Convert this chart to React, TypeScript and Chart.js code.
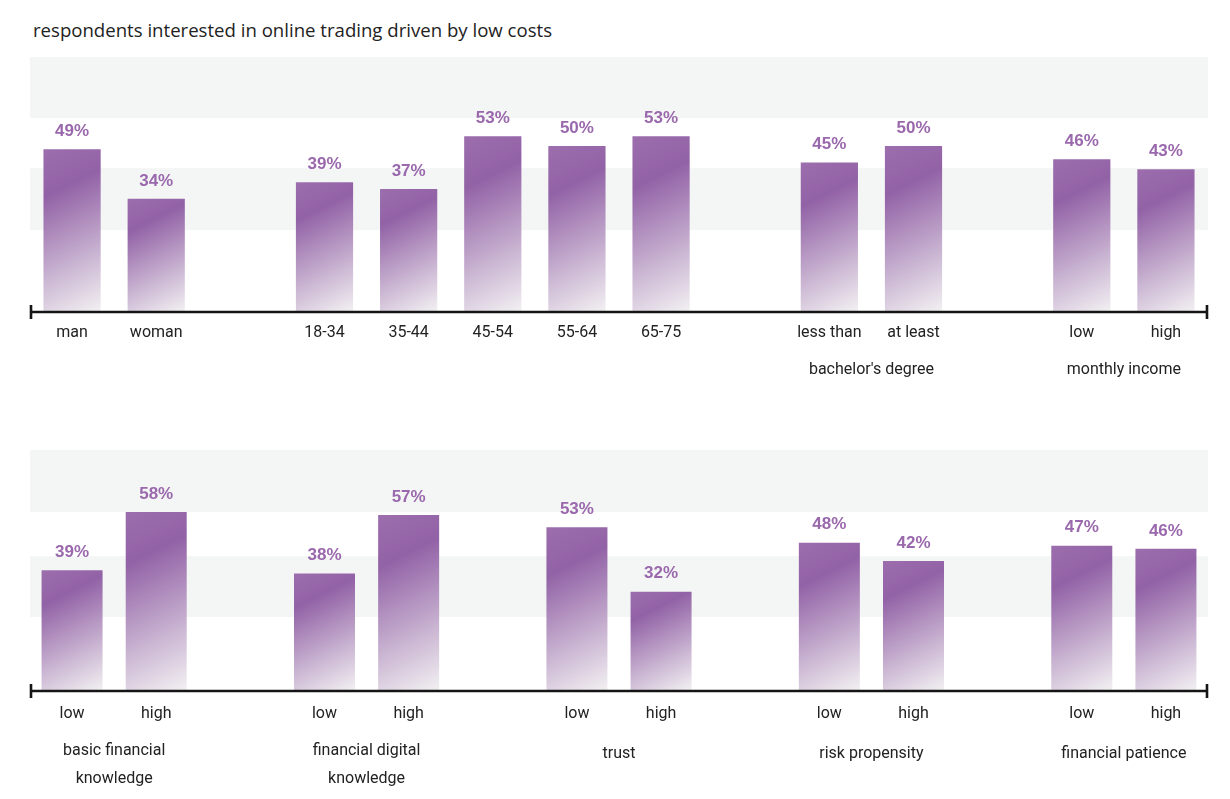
import React, { useEffect, useRef } from 'react';
import { Chart, registerables } from 'chart.js';

Chart.register(...registerables);

const TITLE = 'respondents interested in online trading driven by low costs';

const topCategories = ['man', 'woman', '', '18-34', '35-44', '45-54', '55-64', '65-75', '', 'less than', 'at least', '', 'low', 'high'];
const topValues: (number | null)[] = [49, 34, null, 39, 37, 53, 50, 53, null, 45, 50, null, 46, 43];
const topGroups = [
  { from: 9, to: 10, lines: ["bachelor's degree"] },
  { from: 12, to: 13, lines: ['monthly income'] },
];

const bottomCategories = ['low', 'high', '', 'low', 'high', '', 'low', 'high', '', 'low', 'high', '', 'low', 'high'];
const bottomValues: (number | null)[] = [39, 58, null, 38, 57, null, 53, 32, null, 48, 42, null, 47, 46];
const bottomGroups = [
  { from: 0, to: 1, lines: ['basic financial', 'knowledge'] },
  { from: 3, to: 4, lines: ['financial digital', 'knowledge'] },
  { from: 6, to: 7, lines: ['trust'] },
  { from: 9, to: 10, lines: ['risk propensity'] },
  { from: 12, to: 13, lines: ['financial patience'] },
];

const topBands = [[24.5, 43.3], [58.5, 77]];
const bottomBands = [[23.8, 43.6], [58, 78.2]];

const LABEL_FONT = "Roboto, 'Noto Sans', sans-serif";
const VALUE_FONT = "'Liberation Sans', 'Noto Sans', sans-serif";
const TEXT_COLOR = '#222222';
const VALUE_COLOR = '#9a68ac';
const BAND_COLOR = '#f4f6f5';

type Group = { from: number; to: number; lines: string[] };

function makeGradient(ctx: any, barPct: number) {
  const chart = ctx.chart;
  if (!chart.chartArea || ctx.type !== 'data') return '#9364a7';
  const v = ctx.raw;
  if (v == null) return 'rgba(0,0,0,0)';
  const xs = chart.scales.x;
  const ys = chart.scales.y;
  const n = chart.data.labels.length;
  const w = ((xs.right - xs.left) / n) * barPct;
  const cx = xs.getPixelForValue(ctx.dataIndex);
  const left = cx - w / 2;
  const top = ys.getPixelForValue(v);
  const bottom = ys.getPixelForValue(0);
  const h = bottom - top;
  const k = (0.5 * w + h) / 1.25;
  const g = chart.ctx.createLinearGradient(left, top, left + 0.5 * k, top + k);
  const tDark = Math.min(0.6, Math.max(0.05, (0.3 * h) / (0.5 * w + h)));
  g.addColorStop(0, '#9c6ead');
  g.addColorStop(tDark, '#9262a6');
  g.addColorStop(1, '#f2f0f2');
  return g;
}

function BarPanel(props: {
  categories: string[];
  values: (number | null)[];
  groups: Group[];
  bands: number[][];
  yMax: number;
  barPct: number;
  height: number;
  padTop: number;
  axisHeight: number;
  tickPad: number;
  groupOffset1: number;
  groupOffset2: number;
}) {
  const ref = useRef<HTMLCanvasElement>(null);
  useEffect(() => {
    const { categories, values, groups, bands, yMax, barPct, padTop, axisHeight, tickPad, groupOffset1, groupOffset2 } = props;

    const bandPlugin = {
      id: 'bands',
      beforeDatasetsDraw(chart: any) {
        const { ctx, chartArea, scales } = chart;
        ctx.save();
        ctx.fillStyle = BAND_COLOR;
        for (const [a, b] of bands) {
          const y1 = scales.y.getPixelForValue(b);
          const y0 = scales.y.getPixelForValue(a);
          ctx.fillRect(chartArea.left, y1, chartArea.right - chartArea.left, y0 - y1);
        }
        ctx.restore();
      },
    };

    const axisPlugin = {
      id: 'axisLine',
      afterDatasetsDraw(chart: any) {
        const { ctx, chartArea } = chart;
        const y = chartArea.bottom + 1;
        ctx.save();
        ctx.strokeStyle = '#151515';
        ctx.lineWidth = 2.6;
        ctx.beginPath();
        ctx.moveTo(chartArea.left, y);
        ctx.lineTo(chartArea.right, y);
        ctx.moveTo(chartArea.left + 1, y - 7);
        ctx.lineTo(chartArea.left + 1, y + 7);
        ctx.moveTo(chartArea.right - 1, y - 7);
        ctx.lineTo(chartArea.right - 1, y + 7);
        ctx.stroke();
        ctx.restore();
      },
    };

    const valuePlugin = {
      id: 'values',
      afterDatasetsDraw(chart: any) {
        const { ctx } = chart;
        const meta = chart.getDatasetMeta(0);
        ctx.save();
        ctx.fillStyle = VALUE_COLOR;
        ctx.font = `bold 17px ${VALUE_FONT}`;
        ctx.textAlign = 'center';
        ctx.textBaseline = 'middle';
        meta.data.forEach((el: any, i: number) => {
          const v = values[i];
          if (v == null) return;
          ctx.fillText(`${v}%`, el.x, el.y - 18);
        });
        ctx.restore();
      },
    };

    const groupPlugin = {
      id: 'groups',
      afterDraw(chart: any) {
        const { ctx, chartArea, scales } = chart;
        ctx.save();
        ctx.fillStyle = TEXT_COLOR;
        ctx.font = `16px ${LABEL_FONT}`;
        ctx.textAlign = 'center';
        ctx.textBaseline = 'middle';
        for (const g of groups) {
          const x = (scales.x.getPixelForValue(g.from) + scales.x.getPixelForValue(g.to)) / 2;
          const y0 = chartArea.bottom + (g.lines.length === 1 ? groupOffset1 : groupOffset2);
          g.lines.forEach((line, i) => ctx.fillText(line, x, y0 + i * 28));
        }
        ctx.restore();
      },
    };

    const chart = new Chart(ref.current as HTMLCanvasElement, {
      type: 'bar',
      data: {
        labels: categories,
        datasets: [
          {
            data: values as any,
            backgroundColor: (ctx: any) => makeGradient(ctx, barPct),
            borderWidth: 0,
            barPercentage: barPct,
            categoryPercentage: 1,
          },
        ],
      },
      options: {
        responsive: false,
        animation: false,
        devicePixelRatio: 1,
        layout: { padding: { left: 30, right: 22, top: padTop, bottom: 0 } },
        plugins: {
          legend: { display: false },
          tooltip: { enabled: false },
        },
        scales: {
          x: {
            type: 'category',
            offset: true,
            grid: { display: false, drawTicks: false },
            border: { display: false },
            ticks: {
              autoSkip: false,
              maxRotation: 0,
              minRotation: 0,
              padding: tickPad,
              color: TEXT_COLOR,
              font: { family: LABEL_FONT, size: 16 },
            },
            afterFit: (s: any) => {
              s.height = axisHeight;
            },
          },
          y: { display: false, min: 0, max: yMax },
        },
      } as any,
      plugins: [bandPlugin, axisPlugin, valuePlugin, groupPlugin],
    });
    return () => chart.destroy();
  }, []);
  return <canvas ref={ref} width={1230} height={props.height} style={{ display: 'block' }} />;
}

export default function App() {
  return (
    <div style={{ position: 'absolute', left: 0, top: 0, width: 1230, height: 799, background: '#ffffff', overflow: 'hidden' }}>
      <div
        style={{
          position: 'absolute',
          left: 33,
          top: 19,
          fontFamily: "'Open Sans', 'Noto Sans', sans-serif",
          fontSize: 18.6,
          lineHeight: '22px',
          color: TEXT_COLOR,
          whiteSpace: 'nowrap',
        }}
      >
        {TITLE}
      </div>
      <div style={{ position: 'absolute', left: 0, top: 0 }}>
        <BarPanel
          categories={topCategories}
          values={topValues}
          groups={topGroups}
          bands={topBands}
          yMax={77}
          barPct={0.68}
          height={400}
          padTop={57}
          axisHeight={89}
          tickPad={12}
          groupOffset1={59}
          groupOffset2={59}
        />
      </div>
      <div style={{ position: 'absolute', left: 0, top: 400 }}>
        <BarPanel
          categories={bottomCategories}
          values={bottomValues}
          groups={bottomGroups}
          bands={bottomBands}
          yMax={78.2}
          barPct={0.725}
          height={399}
          padTop={50}
          axisHeight={109}
          tickPad={14}
          groupOffset1={64}
          groupOffset2={61}
        />
      </div>
    </div>
  );
}
